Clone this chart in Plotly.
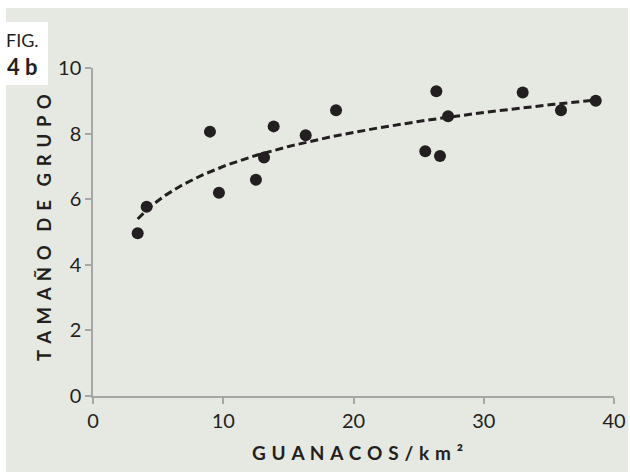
import numpy as np
import plotly.graph_objects as go

# Data
guanacos_km2 = [3.43, 4.12, 8.98, 9.67, 12.51, 13.13, 13.87, 16.33, 18.66,
                25.51, 26.36, 26.64, 27.26, 32.99, 35.93, 38.60]
tamano_grupo = [4.96, 5.77, 8.06, 6.20, 6.59, 7.27, 8.22, 7.95, 8.71,
                7.46, 9.29, 7.32, 8.53, 9.25, 8.71, 9.00]
x_ticks = [0, 10, 20, 30, 40]
y_ticks = [0, 2, 4, 6, 8, 10]

# Logarithmic trendline (least squares on ln x)
xa = np.array(guanacos_km2)
ya = np.array(tamano_grupo)
a, b = np.polyfit(np.log(xa), ya, 1)
xt = np.linspace(xa.min(), xa.max(), 200)
yt = a * np.log(xt) + b

INK = "#231f20"
BG = "#e6e9e1"
AX = "#a6a6a6"

fig = go.Figure()
fig.add_trace(go.Scatter(x=xt, y=yt, mode="lines",
                         line=dict(color=INK, width=3, dash="8px,4px"),
                         hoverinfo="skip", showlegend=False))
fig.add_trace(go.Scatter(x=guanacos_km2, y=tamano_grupo, mode="markers",
                         marker=dict(color=INK, size=12),
                         showlegend=False))

W, H = 630, 472
L, R, T, B = 93, 16, 68, 76
pw, ph = W - L - R, H - T - B


def px_x(p):
    return (p - L) / pw


def px_y(p):
    return (H - B - p) / ph


# white margins and FIG box
for x0, y0, x1, y1 in [(0, 0, 6, H), (0, 0, W, 8), (628, 0, W, H), (0, 22, 48, 85)]:
    fig.add_shape(type="rect", xref="paper", yref="paper",
                  x0=px_x(x0), x1=px_x(x1), y0=px_y(y1), y1=px_y(y0),
                  fillcolor="white", line=dict(width=0), layer="below")

fig.add_annotation(xref="paper", yref="paper", x=px_x(4), y=px_y(40),
                   text="FIG.", showarrow=False, xanchor="left", yanchor="middle",
                   font=dict(family="Lato", size=18, color=INK))
fig.add_annotation(xref="paper", yref="paper", x=px_x(5), y=px_y(66),
                   text="<b>4 b</b>", showarrow=False, xanchor="left", yanchor="middle",
                   font=dict(family="Lato", size=22, color=INK))

SPX = " \u200a"
SPY = " \u2009"
x_title = SPX.join(list("GUANACOS/km²"))
y_title = SPY.join(list("TAMAÑO")) + SPY + SPY + SPY.join(list("DE")) + SPY + SPY + SPY.join(list("GRUPO"))

fig.add_annotation(xref="paper", yref="paper", x=px_x(357), y=px_y(452),
                   text="<b>" + x_title + "</b>", showarrow=False,
                   xanchor="center", yanchor="middle",
                   font=dict(family="Lato", size=19, color=INK))
fig.add_annotation(xref="paper", yref="paper", x=px_x(44), y=px_y(228),
                   text="<b>" + y_title + "</b>", showarrow=False,
                   textangle=-90, xanchor="center", yanchor="middle",
                   font=dict(family="Lato", size=18.5, color=INK))

axis_common = dict(showgrid=False, zeroline=False, showline=True, linecolor=AX,
                   linewidth=1.5, ticks="outside", ticklen=6, tickcolor=AX,
                   tickwidth=1.5, automargin=False,
                   tickfont=dict(family="Lato", size=20, color=INK))
fig.update_xaxes(range=[0, 40], tickvals=x_ticks, **axis_common)
fig.update_yaxes(range=[0, 10], tickvals=y_ticks, **axis_common)

fig.update_layout(width=W, height=H, autosize=False,
                  margin=dict(l=L, r=R, t=T, b=B),
                  paper_bgcolor=BG, plot_bgcolor=BG, showlegend=False)

fig.write_html("out.html",
               config={"responsive": False, "displayModeBar": False},
               post_script="document.body.style.margin='0';document.body.style.overflow='hidden';")
